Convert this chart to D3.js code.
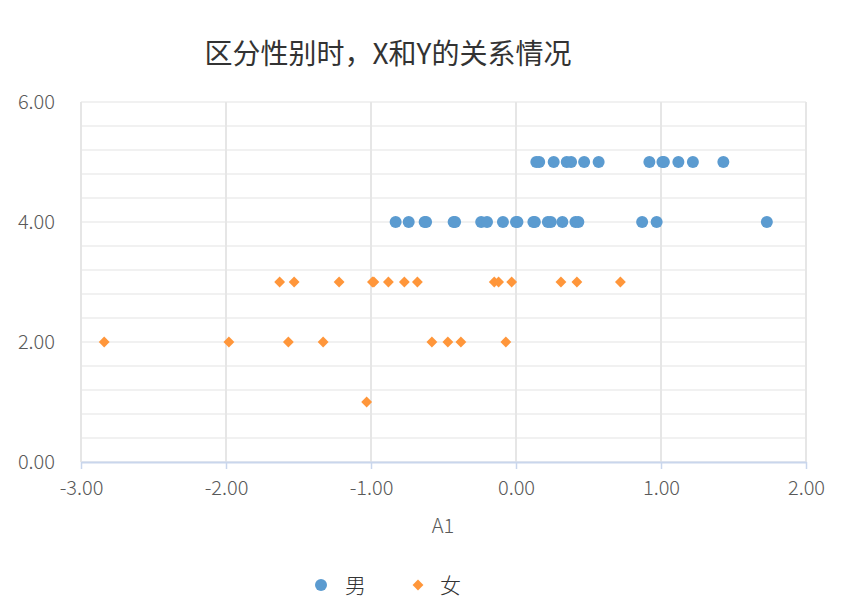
<!DOCTYPE html>
<html><head><meta charset="utf-8">
<script src="https://cdn.jsdelivr.net/npm/d3@7"></script>
<style>body{margin:0;background:#fff}svg{display:block}</style>
</head><body>
<svg id="c" width="865" height="599"></svg>
<script>
const title = "区分性别时，X和Y的关系情况";
const xLabel = "A1";
const seriesNames = ["男", "女"];
const maleX = [0.14,0.16,0.26,0.35,0.38,0.47,0.57,0.92,1.01,1.02,1.12,1.22,1.43,
  -0.83,-0.74,-0.63,-0.62,-0.43,-0.42,-0.24,-0.20,-0.09,0.00,0.01,0.12,0.13,0.22,0.24,0.32,0.41,0.43,0.87,0.97,1.73];
const maleY = [5,5,5,5,5,5,5,5,5,5,5,5,5,
  4,4,4,4,4,4,4,4,4,4,4,4,4,4,4,4,4,4,4,4,4];
const femaleX = [-1.63,-1.53,-1.22,-0.98,-0.99,-0.88,-0.77,-0.68,-0.15,-0.12,-0.03,0.31,0.42,0.72,
  -2.84,-1.98,-1.57,-1.33,-0.58,-0.47,-0.38,-0.07,
  -1.03];
const femaleY = [3,3,3,3,3,3,3,3,3,3,3,3,3,3,
  2,2,2,2,2,2,2,2,
  1];
const xTicks = [-3,-2,-1,0,1,2];
const yTicks = [0,2,4,6];
const yMinor = d3.range(0, 6.0001, 0.4);

const svg = d3.select("#c");
const font = "'Noto Sans CJK SC','Noto Sans',sans-serif";
const fmt = d => d3.format(".2f")(d).replace("\u2212", "-");
const x = d3.scaleLinear().domain([-3,2]).range([81,806]);
const y = d3.scaleLinear().domain([0,6]).range([462,102]);
const blue = "#5b9bd0", orange = "#ff963a";

svg.append("g").selectAll("line").data(yMinor).join("line")
  .attr("x1", x(-3)).attr("x2", x(2))
  .attr("y1", d => y(d)).attr("y2", d => y(d))
  .attr("stroke", "#ededed").attr("stroke-width", 1.5);
svg.append("g").selectAll("line").data(xTicks).join("line")
  .attr("x1", d => x(d)).attr("x2", d => x(d))
  .attr("y1", y(6)).attr("y2", y(0))
  .attr("stroke", "#e6e6e6").attr("stroke-width", 2);

const xa = svg.append("g").attr("transform", `translate(0,${y(0)})`)
  .call(d3.axisBottom(x).tickValues(xTicks).tickFormat(fmt).tickSize(7).tickSizeOuter(0));
xa.select(".domain").attr("stroke", "#c9d6ec").attr("stroke-width", 2);
xa.selectAll(".tick line").attr("stroke", "#c9d6ec").attr("stroke-width", 1.5);
xa.selectAll("text").attr("fill", "#595959").attr("font-size", 20).attr("font-weight", 300)
  .attr("font-family", font).attr("y", 14).attr("dy", "0.95em");

const ya = svg.append("g").attr("transform", `translate(${x(-3)},0)`)
  .call(d3.axisLeft(y).tickValues(yTicks).tickFormat(fmt).tickSize(0));
ya.select(".domain").remove();
ya.selectAll("text").attr("fill", "#595959").attr("font-size", 20).attr("font-weight", 300)
  .attr("font-family", font).attr("x", -26);

const male = maleX.map((v,i) => [v, maleY[i]]);
const female = femaleX.map((v,i) => [v, femaleY[i]]);
svg.append("g").selectAll("circle").data(male).join("circle")
  .attr("cx", d => x(d[0])).attr("cy", d => y(d[1])).attr("r", 6).attr("fill", blue);
const dia = d3.symbol().type(d3.symbolDiamond2).size(75);
svg.append("g").selectAll("path").data(female).join("path")
  .attr("transform", d => `translate(${x(d[0])},${y(d[1])})`).attr("d", dia).attr("fill", orange);

svg.append("text").attr("x", 388).attr("y", 64).attr("text-anchor", "middle")
  .attr("font-size", 28).attr("font-family", font).attr("fill", "#333").text(title);
svg.append("text").attr("x", 443).attr("y", 533).attr("text-anchor", "middle")
  .attr("font-size", 20).attr("font-weight", 300).attr("font-family", font).attr("fill", "#595959").text(xLabel);

svg.append("circle").attr("cx", 321).attr("cy", 585).attr("r", 6).attr("fill", blue);
svg.append("text").attr("x", 345).attr("y", 593).attr("font-size", 21).attr("font-weight", 300).attr("font-family", font).attr("fill", "#333").text(seriesNames[0]);
svg.append("path").attr("transform", "translate(418,585)").attr("d", dia).attr("fill", orange);
svg.append("text").attr("x", 440).attr("y", 593).attr("font-size", 21).attr("font-weight", 300).attr("font-family", font).attr("fill", "#333").text(seriesNames[1]);
</script>
</body></html>
